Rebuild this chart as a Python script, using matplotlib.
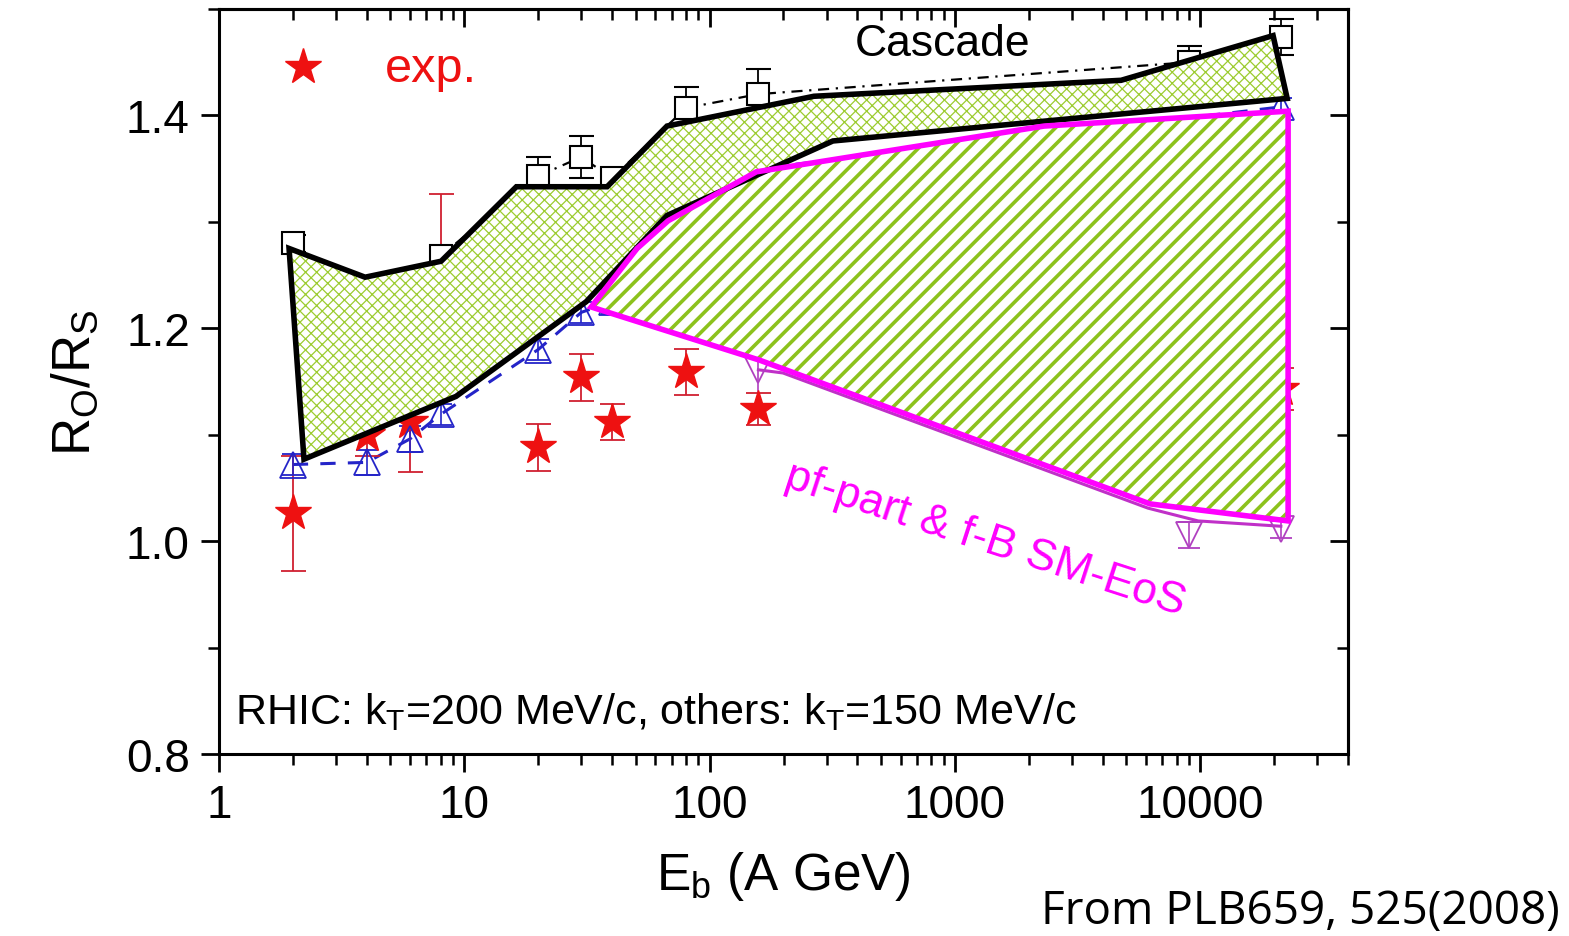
import matplotlib
matplotlib.use('Agg')
import matplotlib.pyplot as plt
from matplotlib.patches import Polygon
from matplotlib.ticker import FixedLocator, NullFormatter, FixedFormatter, MultipleLocator

# ---------------- data ----------------
exp_E = [2, 4, 6, 8, 20, 30, 40, 80, 158, 21300]
exp_R = [1.026, 1.100, 1.112, 1.240, 1.088, 1.154, 1.112, 1.159, 1.124, 1.143]
exp_err = [0.054, 0.020, 0.047, 0.086, 0.022, 0.022, 0.017, 0.022, 0.015, 0.020]

casc_E = [2, 4, 6, 8, 20, 30, 40, 80, 158, 9000, 21300]
casc_R = [1.280, 1.200, 1.220, 1.268, 1.343, 1.361, 1.341, 1.407, 1.420, 1.450, 1.474]
casc_err = [0.008, 0.010, 0.010, 0.008, 0.018, 0.020, 0.010, 0.020, 0.024, 0.015, 0.017]

hyb_E = [2, 4, 6, 8, 20, 30, 40, 80, 158, 21300]
hyb_R = [1.072, 1.074, 1.096, 1.119, 1.180, 1.215, 1.225, 1.300, 1.350, 1.408]
hyb_err = [0.010, 0.012, 0.012, 0.010, 0.010, 0.010, 0.012, 0.010, 0.010, 0.008]

sm_E = [158, 9000, 21300]
sm_R = [1.161, 1.006, 1.011]
sm_err = [0.035, 0.012, 0.008]

sm_curve_E = [158, 199, 1390, 6120, 9800, 21300]
sm_curve_R = [1.161, 1.158, 1.086, 1.031, 1.019, 1.014]

casc_band_E = [1.93, 3.94, 8.04, 16.3, 38.2, 67, 266, 4755, 19800, 22600, 318, 67, 31.4, 9.25, 2.22]
casc_band_R = [1.275, 1.248, 1.263, 1.333, 1.333, 1.390, 1.418, 1.433, 1.475, 1.416, 1.376, 1.306, 1.225, 1.136, 1.077]

sm_band_E = [32.9, 50.6, 67.7, 155, 2307, 22800, 22800, 6237, 160]
sm_band_R = [1.220, 1.275, 1.301, 1.347, 1.390, 1.404, 1.019, 1.035, 1.170]

xticks = [1, 10, 100, 1000, 10000]
xticklabels = ['1', '10', '100', '1000', '10000']
yticks = [0.8, 1.0, 1.2, 1.4]
yticklabels = ['0.8', '1.0', '1.2', '1.4']

# ---------------- style ----------------
plt.rcParams['font.family'] = ['Liberation Sans', 'DejaVu Sans']
plt.rcParams['mathtext.fontset'] = 'custom'
plt.rcParams['mathtext.rm'] = 'Liberation Sans'
plt.rcParams['mathtext.default'] = 'regular'

W, H = 1569, 937
fig = plt.figure(figsize=(W / 100, H / 100), dpi=100)
L, R, T, B = 219, 1348, 10, 755
ax = fig.add_axes([L / W, (H - B) / H, (R - L) / W, (B - T) / H])
ax.set_xscale('log')
ax.set_xlim(1, 40000)
ax.set_ylim(0.8, 1.5)

GREEN = '#8cc21c'
RED = '#ee1111'
BLUE = '#2424c8'
MAG = '#ff00ff'

# markers / lines (below the bands)
ax.errorbar(exp_E, exp_R, yerr=exp_err, fmt='*', color=RED, ms=27, mec=RED,
            ecolor='#d02030', elinewidth=1.3, capsize=9, capthick=1.3, zorder=2)
ax.plot(casc_E, casc_R, color='black', lw=1.6, ls=(0, (5, 3, 1, 3)), zorder=1.5)
ax.errorbar(casc_E, casc_R, yerr=casc_err, fmt='s', mfc='white', mec='black', ms=16,
            mew=1.5, ecolor='black', elinewidth=1.3, capsize=9, capthick=1.3, zorder=2)
ax.plot(hyb_E, hyb_R, color=BLUE, lw=2.2, ls=(0, (5, 4)), zorder=1.5)
ax.errorbar(hyb_E, hyb_R, yerr=hyb_err, fmt='^', mfc='none', mec=BLUE, ms=19,
            mew=1.3, ecolor=BLUE, elinewidth=1.2, capsize=8, capthick=1.2, zorder=2)
ax.plot(sm_curve_E, sm_curve_R, color='#c030c8', lw=2.2, zorder=1.5)
ax.errorbar(sm_E, sm_R, yerr=sm_err, fmt='v', mfc='none', mec='#b040c0', ms=19,
            mew=1.3, ecolor='#b040c0', elinewidth=1.2, capsize=8, capthick=1.2, zorder=2)

# bands
plt.rcParams['hatch.linewidth'] = 0.9
p1 = Polygon(list(zip(casc_band_E, casc_band_R)), closed=True, facecolor='white',
             edgecolor='#9ccc30', hatch='xxx', lw=0, zorder=3)
if hasattr(p1, 'set_hatch_linewidth'):
    p1.set_hatch_linewidth(0.9)
ax.add_patch(p1)
ax.add_patch(Polygon(list(zip(casc_band_E, casc_band_R)), closed=True, fill=False,
                     edgecolor='black', lw=4, joinstyle='miter', zorder=4))

plt.rcParams['hatch.linewidth'] = 2.6
p2 = Polygon(list(zip(sm_band_E, sm_band_R)), closed=True, facecolor='white',
             edgecolor=GREEN, hatch='//', lw=0, zorder=3.2)
if hasattr(p2, 'set_hatch_linewidth'):
    p2.set_hatch_linewidth(2.6)
ax.add_patch(p2)
ax.add_patch(Polygon(list(zip(sm_band_E, sm_band_R)), closed=True, fill=False,
                     edgecolor=MAG, lw=4, joinstyle='miter', zorder=4.2))

# axes styling
for s in ax.spines.values():
    s.set_linewidth(2.2)
    s.set_zorder(6)
minors = [m * 10 ** d for d in range(0, 5) for m in range(2, 10) if m * 10 ** d <= 40000]
ax.xaxis.set_major_locator(FixedLocator(xticks))
ax.xaxis.set_major_formatter(FixedFormatter(xticklabels))
ax.xaxis.set_minor_locator(FixedLocator(minors))
ax.xaxis.set_minor_formatter(NullFormatter())
ax.yaxis.set_major_locator(FixedLocator(yticks))
ax.yaxis.set_major_formatter(FixedFormatter(yticklabels))
ax.yaxis.set_minor_locator(MultipleLocator(0.1))
ax.tick_params(axis='both', which='major', labelsize=33, width=2, length=13, pad=8,
               direction='out', top=False, right=False)
ax.tick_params(axis='both', which='minor', width=1.8, length=8, direction='out',
               top=False, right=False)

# top and right ticks pointing inward
secx = ax.secondary_xaxis('top')
secx.xaxis.set_major_locator(FixedLocator(xticks))
secx.xaxis.set_minor_locator(FixedLocator(minors))
secx.xaxis.set_major_formatter(NullFormatter())
secx.xaxis.set_minor_formatter(NullFormatter())
secx.tick_params(which='major', direction='in', width=2, length=13)
secx.tick_params(which='minor', direction='in', width=1.8, length=8)
secy = ax.secondary_yaxis('right')
secy.yaxis.set_major_locator(FixedLocator(yticks))
secy.yaxis.set_minor_locator(MultipleLocator(0.1))
secy.yaxis.set_major_formatter(NullFormatter())
secy.yaxis.set_minor_formatter(NullFormatter())
secy.tick_params(which='major', direction='in', width=2, length=13)
secy.tick_params(which='minor', direction='in', width=1.8, length=8)
for sec in (secx, secy):
    for s in sec.spines.values():
        s.set_linewidth(2.2)

ax.set_xlabel('E$_b$ (A GeV)', fontsize=37, labelpad=16)
ax.set_ylabel('R$_O$/R$_S$', fontsize=38, labelpad=18)

# legend-like marker and texts
ax.plot([0.0744], [0.922], marker='*', color=RED, ms=27, transform=ax.transAxes,
        clip_on=False, zorder=5)
fig.text(385 / W, 1 - 70 / H, 'exp.', color=RED, fontsize=35, va='center', ha='left')
fig.text(943 / W, 1 - 45 / H, 'Cascade', color='black', fontsize=32, va='center', ha='center',
         zorder=7)
fig.text(235 / W, 1 - 712 / H, 'RHIC: k$_T$=200 MeV/c, others: k$_T$=150 MeV/c',
         color='black', fontsize=31, va='center', ha='left')
fig.text(985 / W, 1 - 540 / H, 'pf-part & f-B SM-EoS', color=MAG, fontsize=32,
         rotation=-18, va='center', ha='center', rotation_mode='anchor')
fig.text(1560 / W, 1 - 912 / H, 'From PLB659, 525(2008)', color='black', fontsize=33,
         family='Open Sans', va='center', ha='right')

fig.savefig('out.png', dpi=100)
